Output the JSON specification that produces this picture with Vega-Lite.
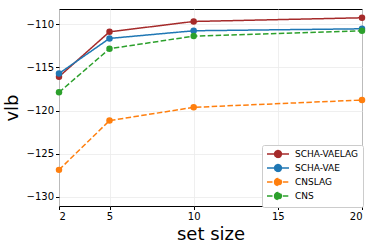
{
  "$schema": "https://vega.github.io/schema/vega-lite/v6.json",
  "width": 303,
  "height": 197,
  "autosize": {"type": "none"},
  "padding": {"left": 59, "top": 9, "right": 12, "bottom": 43},
  "background": "white",
  "config": {
    "font": "DejaVu Sans",
    "view": {"stroke": "black", "strokeWidth": 1},
    "axis": {
      "labelFont": "DejaVu Sans",
      "titleFont": "DejaVu Sans",
      "labelFontSize": 10,
      "labelColor": "black",
      "titleFontSize": 18,
      "titleFontWeight": "normal",
      "titleColor": "black",
      "gridColor": "#ebebeb",
      "gridWidth": 0.8,
      "domain": false,
      "tickColor": "black",
      "tickSize": 3.5,
      "labelPadding": 2
    }
  },
  "data": {
    "values": [
      {"size": 2, "vlb": -116.07, "series": "SCHA-VAELAG"},
      {"size": 5, "vlb": -110.85, "series": "SCHA-VAELAG"},
      {"size": 10, "vlb": -109.65, "series": "SCHA-VAELAG"},
      {"size": 20, "vlb": -109.22, "series": "SCHA-VAELAG"},
      {"size": 2, "vlb": -115.7, "series": "SCHA-VAE"},
      {"size": 5, "vlb": -111.62, "series": "SCHA-VAE"},
      {"size": 10, "vlb": -110.73, "series": "SCHA-VAE"},
      {"size": 20, "vlb": -110.5, "series": "SCHA-VAE"},
      {"size": 2, "vlb": -126.9, "series": "CNSLAG"},
      {"size": 5, "vlb": -121.17, "series": "CNSLAG"},
      {"size": 10, "vlb": -119.63, "series": "CNSLAG"},
      {"size": 20, "vlb": -118.78, "series": "CNSLAG"},
      {"size": 2, "vlb": -117.89, "series": "CNS"},
      {"size": 5, "vlb": -112.82, "series": "CNS"},
      {"size": 10, "vlb": -111.35, "series": "CNS"},
      {"size": 20, "vlb": -110.73, "series": "CNS"}
    ]
  },
  "encoding": {
    "x": {
      "field": "size", "type": "quantitative",
      "scale": {"domain": [2, 20], "nice": false, "zero": false},
      "axis": {"values": [2, 5, 10, 15, 20], "title": "set size", "titlePadding": 4}
    },
    "y": {
      "field": "vlb", "type": "quantitative",
      "scale": {"domain": [-131.1, -108.2], "nice": false, "zero": false},
      "axis": {"values": [-110, -115, -120, -125, -130], "title": "vlb", "titlePadding": 5}
    },
    "color": {
      "field": "series", "type": "nominal",
      "scale": {
        "domain": ["SCHA-VAELAG", "SCHA-VAE", "CNSLAG", "CNS"],
        "range": ["#a52a2a", "#1f77b4", "#ff7f0e", "#2ca02c"]
      }
    }
  },
  "layer": [
    {
      "mark": {"type": "line", "strokeWidth": 1.5},
      "encoding": {
        "strokeDash": {
          "field": "series", "type": "nominal",
          "scale": {
            "domain": ["SCHA-VAELAG", "SCHA-VAE", "CNSLAG", "CNS"],
            "range": [[1, 0], [1, 0], [5.5, 2.4], [5.5, 2.4]]
          }
        },
        "color": {
          "field": "series", "type": "nominal",
          "scale": {
            "domain": ["SCHA-VAELAG", "SCHA-VAE", "CNSLAG", "CNS"],
            "range": ["#a52a2a", "#1f77b4", "#ff7f0e", "#2ca02c"]
          },
          "legend": {
            "title": null,
            "orient": "none",
            "legendX": 203,
            "legendY": 136,
            "padding": 4,
            "fillColor": "white",
            "strokeColor": "#cccccc",
            "cornerRadius": 2,
            "labelFontSize": 9,
            "labelFont": "DejaVu Sans",
            "labelColor": "black",
            "symbolType": "M-2.75,0L2.75,0M-0.85,0A0.85,0.85,0,1,1,0.85,0A0.85,0.85,0,1,1,-0.85,0Z",
            "symbolSize": 64,
            "symbolOffset": 7,
            "symbolStrokeWidth": 1.5,
            "rowPadding": 0,
            "labelOffset": 12,
            "encode": {"symbols": {"update": {"fill": {"scale": "color", "field": "value"}}}}
          }
        }
      }
    },
    {
      "mark": {"type": "point", "filled": true, "size": 42, "opacity": 1},
      "encoding": {
        "color": {"field": "series", "type": "nominal", "legend": null}
      }
    }
  ]
}
